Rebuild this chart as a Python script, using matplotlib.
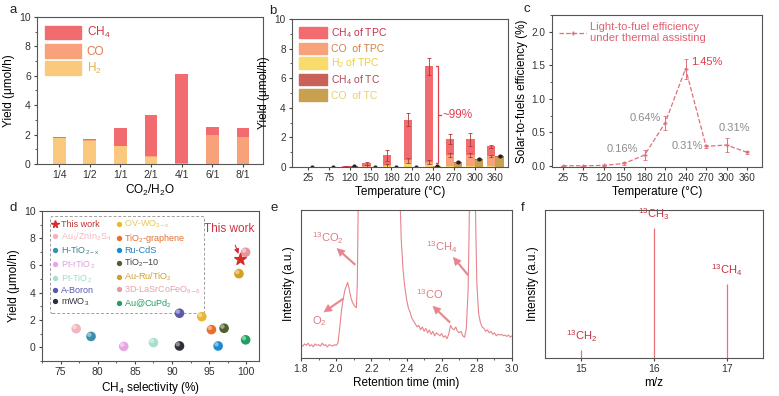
import matplotlib
matplotlib.use("Agg")
import matplotlib.pyplot as plt
from matplotlib.patches import Patch
from matplotlib.lines import Line2D
from matplotlib.ticker import MultipleLocator
import matplotlib.transforms as mtransforms
import numpy as np

plt.rcParams['font.family'] = ['Liberation Sans', 'DejaVu Sans']
plt.rcParams['mathtext.fontset'] = 'custom'
plt.rcParams['mathtext.rm'] = 'Liberation Sans'
plt.rcParams['mathtext.it'] = 'Liberation Sans:italic'
plt.rcParams['mathtext.bf'] = 'Liberation Sans:bold'
plt.rcParams['mathtext.default'] = 'regular'
plt.rcParams['axes.edgecolor'] = '#555555'
plt.rcParams['axes.linewidth'] = 0.8
plt.rcParams['xtick.color'] = '#444444'
plt.rcParams['ytick.color'] = '#444444'
plt.rcParams['xtick.labelcolor'] = '#333333'
plt.rcParams['ytick.labelcolor'] = '#333333'
plt.rcParams['xtick.major.size'] = 2.5
plt.rcParams['ytick.major.size'] = 2.5
plt.rcParams['xtick.minor.size'] = 1.5
plt.rcParams['ytick.minor.size'] = 1.5
plt.rcParams['font.size'] = 8

# ---- panel a: CO2/H2O ratio
ratios = ['1/4', '1/2', '1/1', '2/1', '4/1', '6/1', '8/1']
a_h2 = [1.75, 1.55, 1.2, 0.5, 0.0, 0.0, 0.0]
a_co = [0.03, 0.1, 0.05, 0.05, 0.05, 1.95, 1.85]
a_ch4 = [0.05, 0.07, 1.2, 2.75, 6.05, 0.55, 0.6]

# ---- panel b: temperature
temps = ['25', '75', '120', '150', '180', '210', '240', '270', '300', '360']
tpc_h2 = [0.0, 0.0, 0.0, 0.02, 0.05, 0.2, 0.15, 0.05, 0.05, 0.05]
tpc_co = [0.01, 0.01, 0.02, 0.05, 0.08, 0.25, 0.2, 0.75, 0.75, 0.7]
tpc_ch4 = [0.01, 0.01, 0.03, 0.18, 0.67, 2.75, 6.45, 1.1, 1.07, 0.65]
tpc_err = [0.01, 0.01, 0.02, 0.12, 0.38, 0.45, 0.6, 0.35, 0.45, 0.1]
tpc_low_err = [0.0, 0.0, 0.0, 0.05, 0.1, 0.15, 0.15, 0.15, 0.15, 0.1]
tc_co = [0.01, 0.01, 0.03, 0.0, 0.0, 0.02, 0.05, 0.3, 0.48, 0.65]
tc_ch4 = [0.0, 0.0, 0.02, 0.0, 0.0, 0.01, 0.02, 0.05, 0.07, 0.1]
tc_err = [0.0, 0.0, 0.02, 0.0, 0.0, 0.01, 0.02, 0.04, 0.06, 0.1]

# ---- panel c: efficiency
eff = [0.0, 0.0, 0.005, 0.035, 0.16, 0.64, 1.45, 0.29, 0.31, 0.2]
eff_err = [0.0, 0.0, 0.005, 0.02, 0.08, 0.1, 0.15, 0.02, 0.1, 0.02]
eff_labels = ['0.16%', '0.64%', '1.45%', '0.31%', '0.31%']
eff_label_x = [2.93, 4.03, 7.05, 6.07, 8.37]
eff_label_y = [0.245, 0.71, 1.545, 0.295, 0.56]

# ---- panel d: comparison
names = ['This work', r'Au$_1$/ZnIn$_2$S$_4$', r'H-TiO$_{2-x}$', r'Pt-rTiO$_2$',
         r'Pt-TiO$_2$', 'A-Boron', r'mWO$_3$', r'OV-WO$_{3-x}$', r'TiO$_2$-graphene',
         'Ru-CdS', r'TiO$_2$–10', r'Au-Ru/TiO$_2$', r'3D-LaSrCoFeO$_{6-\delta}$',
         r'Au@CuPd$_2$']
selectivity = [99.1, 77.1, 79.1, 83.5, 87.5, 91.0, 91.0, 94.0, 95.3, 96.2, 97.0, 99.0, 99.9, 99.9]
d_yield = [6.45, 1.37, 0.8, 0.07, 0.35, 2.5, 0.1, 2.25, 1.3, 0.1, 1.4, 5.4, 6.97, 0.55]
d_colors = ['#D92B2B', '#F2B5BE', '#3D8FB0', '#E6A6E6', '#A8E0CC', '#5A5AAA', '#2F2F3A',
            '#E8B830', '#E57030', '#1E88D0', '#4F5F30', '#D4A020', '#E8969E', '#1FA060']
d_text_colors = ['#C03030', '#F0B8C0', '#3A7F95', '#E0A0E0', '#A0DCC8', '#5A5AAA', '#333340',
                 '#E8C850', '#E07030', '#2080C0', '#444444', '#D0A030', '#E8A0A8', '#20A060']

e_time = [1.80, 1.81, 1.82, 1.83, 1.84, 1.85, 1.86, 1.87, 1.88, 1.89, 1.90, 1.91, 1.92, 1.93,
          1.94, 1.95, 1.96, 1.97, 1.98, 1.99, 2.00, 2.01, 2.02, 2.03, 2.04, 2.05, 2.065, 2.075,
          2.085, 2.095, 2.105, 2.115, 2.12, 2.125, 2.13, 2.36, 2.365, 2.37, 2.38, 2.39, 2.40,
          2.41, 2.42, 2.43, 2.44, 2.45, 2.46, 2.47, 2.48, 2.49, 2.50, 2.51, 2.52, 2.53, 2.54,
          2.55, 2.56, 2.57, 2.58, 2.59, 2.60, 2.61, 2.62, 2.63, 2.64, 2.65, 2.66, 2.67, 2.68,
          2.69, 2.70, 2.71, 2.72, 2.73, 2.74, 2.75, 2.755, 2.76, 2.765, 2.785, 2.79, 2.795,
          2.80, 2.81, 2.82, 2.83, 2.84, 2.85, 2.86, 2.87, 2.88, 2.89, 2.90, 2.91, 2.92, 2.93,
          2.94, 2.95, 2.96, 2.97, 2.98, 2.99, 3.00]
e_signal = [0.09, 0.08, 0.095, 0.085, 0.1, 0.08, 0.09, 0.075, 0.095, 0.085, 0.09, 0.08, 0.1,
            0.085, 0.09, 0.075, 0.09, 0.085, 0.08, 0.09, 0.085, 0.1, 0.2, 0.32, 0.4, 0.46, 0.51,
            0.46, 0.4, 0.37, 0.35, 0.34, 0.5, 1.0, 1.6, 1.6, 1.0, 0.8, 0.6, 0.48, 0.40, 0.34,
            0.31, 0.27, 0.25, 0.23, 0.21, 0.22, 0.19, 0.21, 0.18, 0.2, 0.17, 0.19, 0.16, 0.18,
            0.15, 0.17, 0.16, 0.15, 0.165, 0.14, 0.15, 0.13, 0.16, 0.22, 0.2, 0.19, 0.21, 0.18,
            0.17, 0.18, 0.15, 0.14, 0.2, 0.45, 0.8, 1.2, 1.6, 1.6, 1.2, 0.8, 0.5, 0.3, 0.24,
            0.21, 0.2, 0.18, 0.19, 0.17, 0.18, 0.16, 0.17, 0.15, 0.16, 0.155, 0.16, 0.15, 0.155,
            0.145, 0.155, 0.14, 0.15]

# ---- panel f: mass spectrum
mz = [15, 16, 17]
ms_int = [0.055, 0.88, 0.5]
ms_labels = [r'$^{13}$CH$_2$', r'$^{13}$CH$_3$', r'$^{13}$CH$_4$']

fig = plt.figure(figsize=(7.79, 3.96), dpi=100)
ax_a = fig.add_axes([0.0475, 0.586, 0.290, 0.371])
ax_b = fig.add_axes([0.375, 0.578, 0.277, 0.374])
ax_c = fig.add_axes([0.7086, 0.578, 0.2696, 0.384])
ax_d = fig.add_axes([0.0539, 0.0884, 0.2786, 0.379])
ax_e = fig.add_axes([0.3864, 0.096, 0.2709, 0.374])
ax_f = fig.add_axes([0.6996, 0.096, 0.2798, 0.374])

for ax in [ax_a, ax_d, ax_e, ax_f]:
    ax.tick_params(labelsize=7.5, pad=2)
for ax in [ax_b, ax_c]:
    ax.tick_params(labelsize=7.2, pad=2)

c_ch4 = '#F26B6E'
c_co = '#F7A27A'
c_h2 = '#FAC97D'

# ---------------- a
xa = np.arange(len(ratios))
ax_a.bar(xa, a_h2, 0.42, color=c_h2)
ax_a.bar(xa, a_co, 0.42, bottom=a_h2, color=c_co)
ax_a.bar(xa, a_ch4, 0.42, bottom=np.array(a_h2) + np.array(a_co), color=c_ch4)
ax_a.set_xlim(-0.72, 6.65)
ax_a.set_ylim(0, 10)
ax_a.set_xticks(xa)
ax_a.set_xticklabels(ratios)
ax_a.yaxis.set_minor_locator(MultipleLocator(1))
ax_a.set_xlabel(r'CO$_2$/H$_2$O', fontsize=8.5, labelpad=2)
ax_a.set_ylabel('Yield (μmol/h)', fontsize=8.5, labelpad=3)
leg = ax_a.legend([Patch(color=c_ch4), Patch(color=c_co), Patch(color=c_h2)],
                  ['CH$_4$', 'CO', 'H$_2$'], loc='upper left', frameon=False,
                  handlelength=3.0, handleheight=1.4, fontsize=8.5,
                  borderaxespad=0.3, labelspacing=0.3, handletextpad=0.5)
for t, c in zip(leg.get_texts(), ['#D0344A', '#E07A50', '#E8B040']):
    t.set_color(c)

# ---------------- b
c_tc_ch4 = '#C9605A'
c_tc_co = '#C9A050'
c_yel = '#F8DB6A'
xb = np.arange(len(temps))
low = np.array(tpc_h2) + np.array(tpc_co)
ax_b.bar(xb - 0.2, tpc_h2, 0.4, color=c_yel)
ax_b.bar(xb - 0.2, tpc_co, 0.4, bottom=tpc_h2, color=c_co)
ax_b.bar(xb - 0.2, tpc_ch4, 0.4, bottom=low, color=c_ch4)
ax_b.errorbar(xb - 0.2, low + np.array(tpc_ch4), yerr=tpc_err, fmt='none',
              ecolor='#A83A3A', elinewidth=0.6, capsize=1.5, capthick=0.6)
ax_b.errorbar(xb - 0.2, low, yerr=tpc_low_err, fmt='none',
              ecolor='#A83A3A', elinewidth=0.6, capsize=1.5, capthick=0.6)
ax_b.bar(xb + 0.2, tc_co, 0.4, color=c_tc_co)
ax_b.bar(xb + 0.2, tc_ch4, 0.4, bottom=tc_co, color=c_tc_ch4)
ax_b.errorbar(xb + 0.2, np.array(tc_co) + np.array(tc_ch4), yerr=tc_err, fmt='o', ms=2,
              color='#222222', elinewidth=0.6, capsize=1.5, capthick=0.6)
ax_b.set_xlim(-0.78, 9.6)
ax_b.set_ylim(0, 10)
ax_b.set_xticks(xb)
ax_b.set_xticklabels(temps)
ax_b.yaxis.set_minor_locator(MultipleLocator(1))
ax_b.set_xlabel('Temperature (°C)', fontsize=8.5, labelpad=2)
ax_b.set_ylabel('Yield (μmol/h)', fontsize=8.5, labelpad=3)
# bracket at 240
xbr = xb[6] + 0.25
y0, y1 = 0.3, low[6] + tpc_ch4[6]
ax_b.plot([xbr - 0.12, xbr, xbr, xbr - 0.12], [y0, y0, y1, y1], color='#E04050', lw=0.9)
ax_b.plot([xbr, xbr + 0.12], [(y0 + y1) / 2, (y0 + y1) / 2], color='#E04050', lw=0.9)
ax_b.text(xbr + 0.2, (y0 + y1) / 2, '~99%', color='#E04050', fontsize=8.5, va='center')
leg = ax_b.legend([Patch(color=c_ch4), Patch(color=c_co), Patch(color=c_yel),
                   Patch(color=c_tc_ch4), Patch(color=c_tc_co)],
                  ['CH$_4$ of TPC', 'CO  of TPC', 'H$_2$ of TPC', 'CH$_4$ of TC', 'CO  of TC'],
                  loc='upper left', frameon=False, handlelength=2.6, handleheight=1.3,
                  fontsize=7.5, borderaxespad=0.3, labelspacing=0.25, handletextpad=0.4)
for t, c in zip(leg.get_texts(), ['#C8304A', '#D08048', '#E8D040', '#B04858', '#E8D060']):
    t.set_color(c)

# ---------------- c
c_line = '#E0707A'
xc = np.arange(len(temps))
ax_c.errorbar(xc, eff, yerr=eff_err, fmt='--', marker='+', ms=3.5, color=c_line,
              lw=0.9, elinewidth=0.7, capsize=1.5, capthick=0.6)
ax_c.set_xlim(-0.52, 9.73)
ax_c.set_ylim(-0.02, 2.25)
ax_c.set_xticks(xc)
ax_c.set_xticklabels(temps)
ax_c.set_yticks([0.0, 0.5, 1.0, 1.5, 2.0])
ax_c.set_yticklabels(['0.0', '0.5', '1.0', '1.5', '2.0'])
ax_c.yaxis.set_minor_locator(MultipleLocator(0.25))
ax_c.set_xlabel('Temperature (°C)', fontsize=8.5, labelpad=2)
ax_c.set_ylabel('Solar-to-fuels efficiency (%)', fontsize=8.5, labelpad=3)
for lab, lx, ly in zip(eff_labels, eff_label_x, eff_label_y):
    col = '#E03A4A' if lab == '1.45%' and lx > 7 else '#8C8C8C'
    ax_c.text(lx, ly, lab, color=col, fontsize=8, ha='center', va='center')
leg = ax_c.legend([Line2D([], [], ls='--', marker='+', ms=3.5, color=c_line, lw=0.9)],
                  ['Light-to-fuel efficiency\nunder thermal assisting'], loc='upper left',
                  frameon=False, handlelength=2.5, fontsize=8, borderaxespad=0.2,
                  handletextpad=0.3)
for t in leg.get_texts():
    t.set_color('#E06070')

# ---------------- d
hl = mtransforms.offset_copy(ax_d.transData, fig=fig, x=-1.2, y=1.2, units='points')
for i in range(len(names)):
    if i == 0:
        ax_d.scatter(selectivity[i], d_yield[i], marker='*', s=75, color=d_colors[i], zorder=6)
    else:
        ax_d.scatter(selectivity[i], d_yield[i], marker='o', s=48, color=d_colors[i],
                     edgecolor='none', zorder=5)
        ax_d.scatter(selectivity[i], d_yield[i], marker='o', s=10, color='white',
                     alpha=0.45, edgecolor='none', zorder=5, transform=hl)
ax_d.set_xlim(72.5, 101.7)
ax_d.set_ylim(-1, 10)
ax_d.set_xticks([75, 80, 85, 90, 95, 100])
ax_d.set_yticks([0, 2, 4, 6, 8, 10])
ax_d.yaxis.set_minor_locator(MultipleLocator(1))
ax_d.xaxis.set_minor_locator(MultipleLocator(2.5))
ax_d.set_xlabel('CH$_4$ selectivity (%)', fontsize=8.5, labelpad=2)
ax_d.set_ylabel('Yield (μmol/h)', fontsize=8.5, labelpad=3)
handles = []
for i in range(len(names)):
    if i == 0:
        handles.append(Line2D([], [], ls='none', marker='*', ms=5.5, color=d_colors[i]))
    else:
        handles.append(Line2D([], [], ls='none', marker='o', ms=2.8, color=d_colors[i]))
leg = ax_d.legend(handles, names, loc='upper left', ncol=2, fontsize=6.5,
                  bbox_to_anchor=(0.015, 0.995), frameon=True, fancybox=True,
                  handlelength=0.6, handletextpad=0.3, labelspacing=0.16,
                  columnspacing=0.5, borderpad=0.3)
leg.set_zorder(2)
leg.get_frame().set_linestyle((0, (3, 2)))
leg.get_frame().set_edgecolor('#888888')
leg.get_frame().set_linewidth(0.7)
for t, c in zip(leg.get_texts(), d_text_colors):
    t.set_color(c)
ax_d.annotate('This work', xy=(99.0, 6.75), xytext=(97.7, 8.7), color='#D03040',
              fontsize=8.5, ha='center', va='center',
              arrowprops=dict(arrowstyle='-|>', color='#D03040', lw=0.8,
                              shrinkA=6, shrinkB=1, mutation_scale=7))

# ---------------- e
c_e = '#E8848C'
ax_e.plot(e_time, e_signal, color=c_e, lw=0.8)
ax_e.set_xlim(1.8, 3.0)
ax_e.set_ylim(0, 1)
ax_e.set_yticks([])
ax_e.set_xticks([1.8, 2.0, 2.2, 2.4, 2.6, 2.8, 3.0])
ax_e.xaxis.set_minor_locator(MultipleLocator(0.1))
ax_e.set_xlabel('Retention time (min)', fontsize=8.5, labelpad=2)
ax_e.set_ylabel('Intensity (a.u.)', fontsize=8.5, labelpad=4)
arrow_kw = dict(arrowstyle='simple,head_width=0.7,head_length=0.7,tail_width=0.15',
                color='#E8848C', lw=0.3, shrinkA=0, shrinkB=0)
ax_e.annotate('', xy=(2.004, 0.74), xytext=(2.108, 0.63), arrowprops=arrow_kw)
ax_e.annotate('', xy=(1.93, 0.31), xytext=(2.04, 0.40), arrowprops=arrow_kw)
ax_e.annotate('', xy=(2.55, 0.35), xytext=(2.647, 0.24), arrowprops=arrow_kw)
ax_e.annotate('', xy=(2.666, 0.68), xytext=(2.75, 0.56), arrowprops=arrow_kw)
ax_e.text(1.955, 0.81, r'$^{13}$CO$_2$', color='#E07A84', fontsize=8, ha='center', va='center')
ax_e.text(1.905, 0.25, r'O$_2$', color='#E07A84', fontsize=8, ha='center', va='center')
ax_e.text(2.533, 0.43, r'$^{13}$CO', color='#E07A84', fontsize=8, ha='center', va='center')
ax_e.text(2.6, 0.75, r'$^{13}$CH$_4$', color='#E07A84', fontsize=8, ha='center', va='center')

# ---------------- f
ax_f.vlines(mz, 0, ms_int, color='#E87078', lw=0.9)
for m, v, lab in zip(mz, ms_int, ms_labels):
    ax_f.text(m, v + 0.04, lab, color='#C8303E', fontsize=8, ha='center', va='bottom')
ax_f.set_xlim(14.5, 17.5)
ax_f.set_ylim(0, 1)
ax_f.set_yticks([])
ax_f.set_xticks(mz)
ax_f.set_xlabel('m/z', fontsize=8.5, labelpad=2)
ax_f.set_ylabel('Intensity (a.u.)', fontsize=8.5, labelpad=4)

# panel letters
for lab, x, y in [('a', 0.012, 0.975), ('b', 0.345, 0.972), ('c', 0.672, 0.977),
                  ('d', 0.012, 0.474), ('e', 0.347, 0.474), ('f', 0.668, 0.474)]:
    fig.text(x, y, lab, fontsize=9.5, ha='left', va='center', color='#222222')

fig.savefig('out.png', dpi=100)
